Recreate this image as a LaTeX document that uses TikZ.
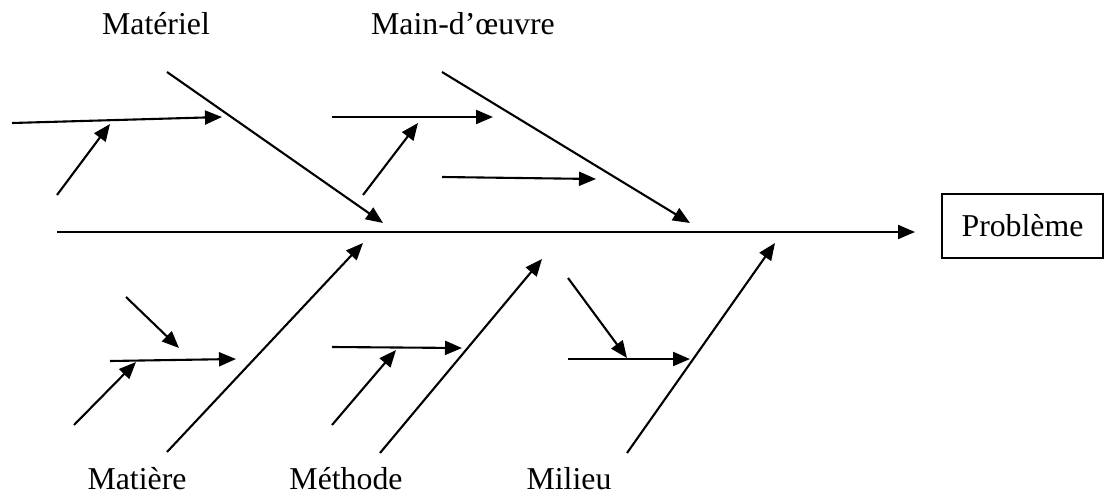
\documentclass[tikz,border=0pt]{standalone}
\usepackage{fontspec}
\setmainfont{Liberation Serif}
\usetikzlibrary{arrows.meta}
\begin{document}
\begin{tikzpicture}[x=1pt,y=-1pt,
  bone/.style={line width=2.1pt,-{Triangle[length=17pt,width=14pt]}},
  lbl/.style={font=\fontsize{31.8}{36}\selectfont,inner sep=0pt,anchor=base},
  probbox/.style={draw,line width=1.4pt,minimum width=161pt,minimum height=64pt,inner sep=0pt,font=\fontsize{31.8}{36}\selectfont}]
\useasboundingbox (0,0) rectangle (1105,495);
% labels
\node[lbl] (lmat) at (156,35) {Matériel};
\node[lbl] (lmain) at (463,35) {Main-d’œuvre};
\node[lbl] (lmatiere) at (137,489) {Matière};
\node[lbl] (lmeth) at (346,489) {Méthode};
\node[lbl] (lmil) at (569,489) {Milieu};
\node[probbox] (prob) at (1022.5,226) {Problème};
% spine
\coordinate (s0) at (57,232);
\coordinate (s1) at (915,232);
\draw[bone] (s0) -- (s1);
% Materiel
\coordinate (m0) at (167,72); \coordinate (m1) at (383,223);
\draw[bone] (m0) -- (m1);
\coordinate (ma0) at (12,123); \coordinate (ma1) at (222,117);
\draw[bone] (ma0) -- (ma1);
\coordinate (mb0) at (57,195); \coordinate (mb1) at (110,124);
\draw[bone] (mb0) -- (mb1);
% Main-d'oeuvre
\coordinate (w0) at (442,72); \coordinate (w1) at (690,223);
\draw[bone] (w0) -- (w1);
\coordinate (wa0) at (332,117); \coordinate (wa1) at (493,117);
\draw[bone] (wa0) -- (wa1);
\coordinate (wb0) at (363,195); \coordinate (wb1) at (418,123);
\draw[bone] (wb0) -- (wb1);
\coordinate (wc0) at (442,177); \coordinate (wc1) at (596,179);
\draw[bone] (wc0) -- (wc1);
% Matiere
\coordinate (t0) at (167,452); \coordinate (t1) at (363,243);
\draw[bone] (t0) -- (t1);
\coordinate (ta0) at (110,361); \coordinate (ta1) at (236,359);
\draw[bone] (ta0) -- (ta1);
\coordinate (tb0) at (74,425); \coordinate (tb1) at (136,362);
\draw[bone] (tb0) -- (tb1);
\coordinate (tc0) at (126,297); \coordinate (tc1) at (179,348);
\draw[bone] (tc0) -- (tc1);
% Methode
\coordinate (e0) at (380,453); \coordinate (e1) at (542,259);
\draw[bone] (e0) -- (e1);
\coordinate (ea0) at (332,347); \coordinate (ea1) at (462,348);
\draw[bone] (ea0) -- (ea1);
\coordinate (eb0) at (332,425); \coordinate (eb1) at (396,350);
\draw[bone] (eb0) -- (eb1);
% Milieu
\coordinate (l0) at (627,453); \coordinate (l1) at (775,243);
\draw[bone] (l0) -- (l1);
\coordinate (la0) at (568,359); \coordinate (la1) at (690,359);
\draw[bone] (la0) -- (la1);
\coordinate (lb0) at (568,278); \coordinate (lb1) at (627,358);
\draw[bone] (lb0) -- (lb1);
\end{tikzpicture}
\end{document}
